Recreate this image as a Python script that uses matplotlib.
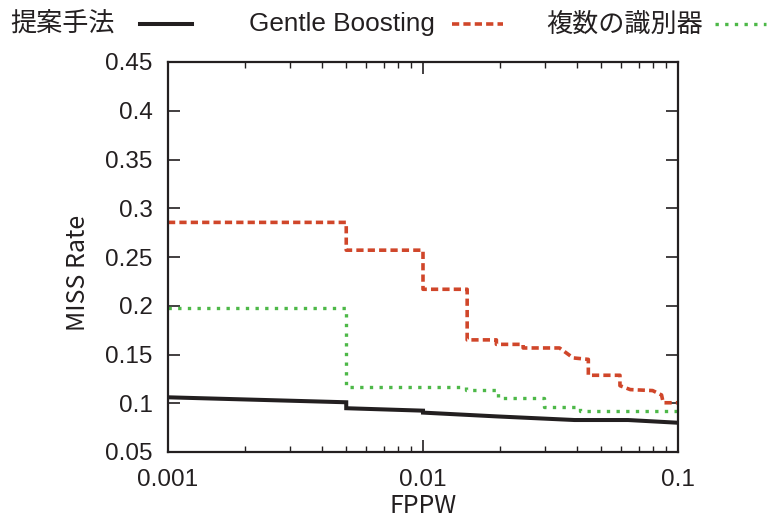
import matplotlib
matplotlib.use("Agg")
import matplotlib.pyplot as plt
from matplotlib.lines import Line2D
from matplotlib.ticker import FixedLocator, FixedFormatter, LogLocator, NullFormatter

# ---------------- data ----------------
series_names = ["提案手法", "Gentle Boosting", "複数の識別器"]

prop_x = [0.001, 0.005, 0.005, 0.01, 0.01, 0.0195, 0.0393, 0.0637, 0.1]
prop_y = [0.1061, 0.1010, 0.0949, 0.0924, 0.0904, 0.0865, 0.0828, 0.0828, 0.0800]

gentle_x = [0.001, 0.005, 0.005, 0.01, 0.01, 0.0149, 0.0149, 0.0194, 0.0194,
            0.0247, 0.0247, 0.0343, 0.0388, 0.0445, 0.0445, 0.0592, 0.0592,
            0.065, 0.0795, 0.0862, 0.0875, 0.1]
gentle_y = [0.2855, 0.2855, 0.2570, 0.2570, 0.2169, 0.2169, 0.1650, 0.1650, 0.1604,
            0.1604, 0.1567, 0.1567, 0.1465, 0.1450, 0.1287, 0.1287, 0.1180,
            0.1140, 0.1130, 0.1085, 0.1005, 0.1005]

multi_x = [0.001, 0.005, 0.005, 0.0148, 0.0148, 0.0197, 0.0197, 0.0299, 0.0299,
           0.0413, 0.0413, 0.1]
multi_y = [0.1975, 0.1975, 0.1170, 0.1170, 0.1132, 0.1132, 0.1051, 0.1051, 0.0965,
           0.0965, 0.0924, 0.0924]

yticks = [0.05, 0.1, 0.15, 0.2, 0.25, 0.3, 0.35, 0.4, 0.45]
ytick_labels = ["0.05", "0.1", "0.15", "0.2", "0.25", "0.3", "0.35", "0.4", "0.45"]
xticks = [0.001, 0.01, 0.1]
xtick_labels = ["0.001", "0.01", "0.1"]

x_label = "FPPW"
y_label = "MISS Rate"

# ---------------- style ----------------
RED = "#d0462a"
GREEN = "#4db848"
BLACK = "#231f20"
LATIN = ["Liberation Sans", "DejaVu Sans"]
CJK = ["Noto Sans CJK JP", "DejaVu Sans"]

W, H, DPI = 768, 523, 100
fig = plt.figure(figsize=(W / DPI, H / DPI), dpi=DPI)
L, R, T, B = 168, 678, 62, 452
ax = fig.add_axes([L / W, (H - B) / H, (R - L) / W, (B - T) / H])

black_style = dict(color=BLACK, lw=2.9, solid_joinstyle="miter")
red_style = dict(color=RED, lw=2.6, linestyle=(0, (2.0, 1.15)), dash_capstyle="butt")
green_style = dict(color=GREEN, lw=2.4, linestyle=(0, (1.0, 1.9)), dash_capstyle="butt")

ax.plot(prop_x, prop_y, **black_style)
ax.plot(gentle_x, gentle_y, **red_style)
ax.plot(multi_x, multi_y, **green_style)

ax.set_xscale("log")
ax.set_xlim(0.001, 0.1)
ax.set_ylim(0.05, 0.45)
ax.xaxis.set_major_locator(FixedLocator(xticks))
ax.xaxis.set_major_formatter(FixedFormatter(xtick_labels))
ax.xaxis.set_minor_locator(LogLocator(base=10, subs=range(2, 10)))
ax.xaxis.set_minor_formatter(NullFormatter())
ax.yaxis.set_major_locator(FixedLocator(yticks))
ax.yaxis.set_major_formatter(FixedFormatter(ytick_labels))
ax.yaxis.set_minor_locator(FixedLocator([]))

for s in ax.spines.values():
    s.set_linewidth(1.6)
    s.set_color(BLACK)

ax.tick_params(which="both", direction="in", top=True, right=True, colors=BLACK)
ax.tick_params(which="major", length=8.5, width=1.2, pad=11, labelsize=17.5)
ax.tick_params(which="minor", length=4.5, width=1.0)
for lab in ax.get_xticklabels() + ax.get_yticklabels():
    lab.set_family(LATIN)
ax.tick_params(axis="x", which="major", pad=12)

ax.set_xlabel(x_label, family=CJK, fontsize=18, labelpad=2, color=BLACK)
ax.set_ylabel(y_label, family=CJK, fontsize=18, labelpad=10, color=BLACK)
ax.yaxis.label.set_y(0.459)

# ---------------- legend (gnuplot style: text then sample) ----------------
leg_y = 1 - 24 / H
text_right = [115, 435, 703]
sample_span = [(140, 192), (452, 503), (715, 766)]
styles = [black_style, red_style, green_style]
fams = [CJK, LATIN, CJK]
for name, tr, (a, b), st, fam in zip(series_names, text_right, sample_span, styles, fams):
    fig.text(tr / W, leg_y, name, ha="right", va="center", family=fam,
             fontsize=18.8, color=BLACK)
    fig.add_artist(Line2D([a / W, b / W], [leg_y, leg_y], transform=fig.transFigure, **st))

fig.savefig("out.png", dpi=DPI)
